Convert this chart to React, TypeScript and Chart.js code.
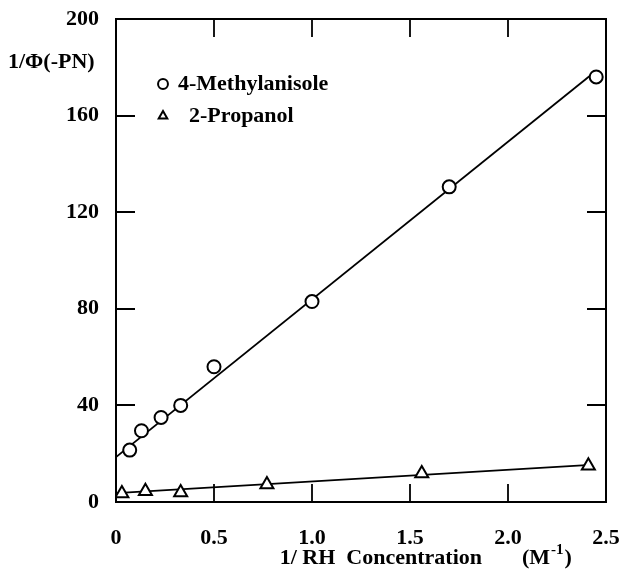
import { useEffect, useRef } from "react";
import { Chart, registerables } from "chart.js";

Chart.register(...registerables);

// Measured series: 1/Φ(-PN) against 1/[RH]
const methylX = [0.07, 0.13, 0.23, 0.33, 0.5, 1.0, 1.7, 2.45];
const methylY = [21.5, 29.5, 35, 40, 56, 83, 130.5, 176];
const propX = [0.03, 0.15, 0.33, 0.77, 1.56, 2.41];
const propY = [3.5, 4.5, 3.9, 7.2, 11.8, 15];

// Least-squares lines (end points)
const methylFitX = [0, 2.42];
const methylFitY = [18.6, 176.6];
const propFitX = [0, 2.4];
const propFitY = [3.7, 15.3];

const xTicks = [0, 0.5, 1.0, 1.5, 2.0, 2.5];
const yTicks = [0, 40, 80, 120, 160, 200];
const seriesNames = ["4-Methylanisole", "  2-Propanol"];
const yTitle = "1/\u03A6(-PN)";
const xTitle = "1/ RH  Concentration";
const xUnit = ["(M", "-1", ")"];

const FAMILY = '"Liberation Serif", "Times New Roman", serif';
const FONT_SIZE = 22;
const WEIGHT = "bold";
const W = 622;
const H = 575;

const framePlugin = {
  id: "frame",
  afterLayout(chart: any) {
    // legend sits inside the plot, below the caption of the vertical axis
    const lg = chart.legend;
    if (lg) {
      lg.left += 33;
      lg.right += 33;
      lg.top += 63;
      lg.bottom += 63;
    }
  },
  beforeDatasetsDraw(chart: any) {
    const { ctx, chartArea: a, scales } = chart;
    ctx.save();
    ctx.strokeStyle = "#000";
    ctx.lineWidth = 2;
    ctx.strokeRect(a.left, a.top, a.right - a.left, a.bottom - a.top);
    ctx.lineWidth = 1.8;
    ctx.beginPath();
    const sx = scales.x;
    for (const t of sx.ticks) {
      if (t.value <= sx.min || t.value >= sx.max) continue;
      const px = Math.round(sx.getPixelForValue(t.value));
      ctx.moveTo(px, a.bottom);
      ctx.lineTo(px, a.bottom - 18);
      ctx.moveTo(px, a.top);
      ctx.lineTo(px, a.top + 18);
    }
    const sy = scales.y;
    for (const t of sy.ticks) {
      if (t.value <= sy.min || t.value >= sy.max) continue;
      const py = Math.round(sy.getPixelForValue(t.value));
      ctx.moveTo(a.left, py);
      ctx.lineTo(a.left + 19, py);
      ctx.moveTo(a.right, py);
      ctx.lineTo(a.right - 19, py);
    }
    ctx.stroke();
    ctx.restore();
  },
  afterDraw(chart: any) {
    const { ctx, chartArea: a } = chart;
    ctx.save();
    ctx.fillStyle = "#000";
    ctx.textBaseline = "middle";
    ctx.font = `${WEIGHT} ${FONT_SIZE}px ${FAMILY}`;
    // vertical-axis caption, written horizontally at the upper left
    ctx.textAlign = "left";
    ctx.fillText(yTitle, a.left - 108, a.top + 43);
    // horizontal-axis caption with unit and superscript
    const ty = a.bottom + 56;
    ctx.textAlign = "right";
    ctx.fillText(xTitle, a.left + 366, ty);
    ctx.textAlign = "left";
    let x = a.left + 406;
    ctx.fillText(xUnit[0], x, ty);
    x += ctx.measureText(xUnit[0]).width + 1;
    ctx.font = `${WEIGHT} 15px ${FAMILY}`;
    ctx.fillText(xUnit[1], x, ty - 8);
    x += ctx.measureText(xUnit[1]).width + 1;
    ctx.font = `${WEIGHT} ${FONT_SIZE}px ${FAMILY}`;
    ctx.fillText(xUnit[2], x, ty);
    ctx.restore();
  },
};

export default function App() {
  const ref = useRef<HTMLCanvasElement | null>(null);

  useEffect(() => {
    if (!ref.current) return;
    const font = { family: FAMILY, size: FONT_SIZE, weight: WEIGHT };
    const chart = new Chart(ref.current, {
      type: "scatter",
      data: {
        datasets: [
          {
            label: seriesNames[0],
            data: methylX.map((x, i) => ({ x, y: methylY[i] })),
            pointStyle: "circle",
            pointRadius: 6.5,
            pointBorderWidth: 2,
            borderWidth: 2,
            borderColor: "#000",
            backgroundColor: "#fff",
            order: 0,
          },
          {
            label: seriesNames[1],
            data: propX.map((x, i) => ({ x, y: propY[i] })),
            pointStyle: "triangle",
            pointRadius: 7.5,
            pointBorderWidth: 2,
            borderWidth: 2,
            borderColor: "#000",
            backgroundColor: "#fff",
            order: 1,
          },
          {
            label: "fit-methyl",
            data: methylFitX.map((x, i) => ({ x, y: methylFitY[i] })),
            showLine: true,
            pointRadius: 0,
            borderColor: "#000",
            borderWidth: 1.8,
            order: 2,
          },
          {
            label: "fit-prop",
            data: propFitX.map((x, i) => ({ x, y: propFitY[i] })),
            showLine: true,
            pointRadius: 0,
            borderColor: "#000",
            borderWidth: 1.8,
            order: 3,
          },
        ],
      },
      options: {
        animation: false,
        responsive: false,
        devicePixelRatio: 1,
        layout: { padding: { left: 0, top: 19, right: 16, bottom: 0 } },
        plugins: {
          tooltip: { enabled: false },
          legend: {
            position: "chartArea",
            align: "start",
            labels: {
              usePointStyle: true,
              boxWidth: 8,
              boxHeight: 7,
              padding: 10,
              color: "#000",
              font,
              filter: (item: any) => item.datasetIndex < 2,
            },
          },
        },
        scales: {
          x: {
            type: "linear",
            min: 0,
            max: 2.5,
            grid: { display: false },
            border: { display: false },
            ticks: {
              padding: 15,
              color: "#000",
              font,
              autoSkip: false,
              maxRotation: 0,
              callback: (v: any) => (Number(v) === 0 ? "0" : Number(v).toFixed(1)),
            },
            afterBuildTicks: (s: any) => {
              s.ticks = xTicks.map((value) => ({ value }));
            },
            afterFit: (s: any) => {
              s.height = 73;
              s.paddingLeft = 0;
              s.paddingRight = 0;
            },
          },
          y: {
            type: "linear",
            min: 0,
            max: 200,
            grid: { display: false },
            border: { display: false },
            ticks: {
              padding: 9,
              color: "#000",
              font,
              autoSkip: false,
              callback: (v: any) => String(v),
            },
            afterBuildTicks: (s: any) => {
              s.ticks = yTicks.map((value) => ({ value }));
            },
            afterFit: (s: any) => {
              s.width = 116;
              s.paddingTop = 0;
              s.paddingBottom = 0;
            },
          },
        },
      },
      plugins: [framePlugin],
    } as any);
    return () => chart.destroy();
  }, []);

  return (
    <div style={{ position: "absolute", left: 0, top: 0, width: W, height: H }}>
      <canvas ref={ref} width={W} height={H} style={{ display: "block" }} />
    </div>
  );
}
